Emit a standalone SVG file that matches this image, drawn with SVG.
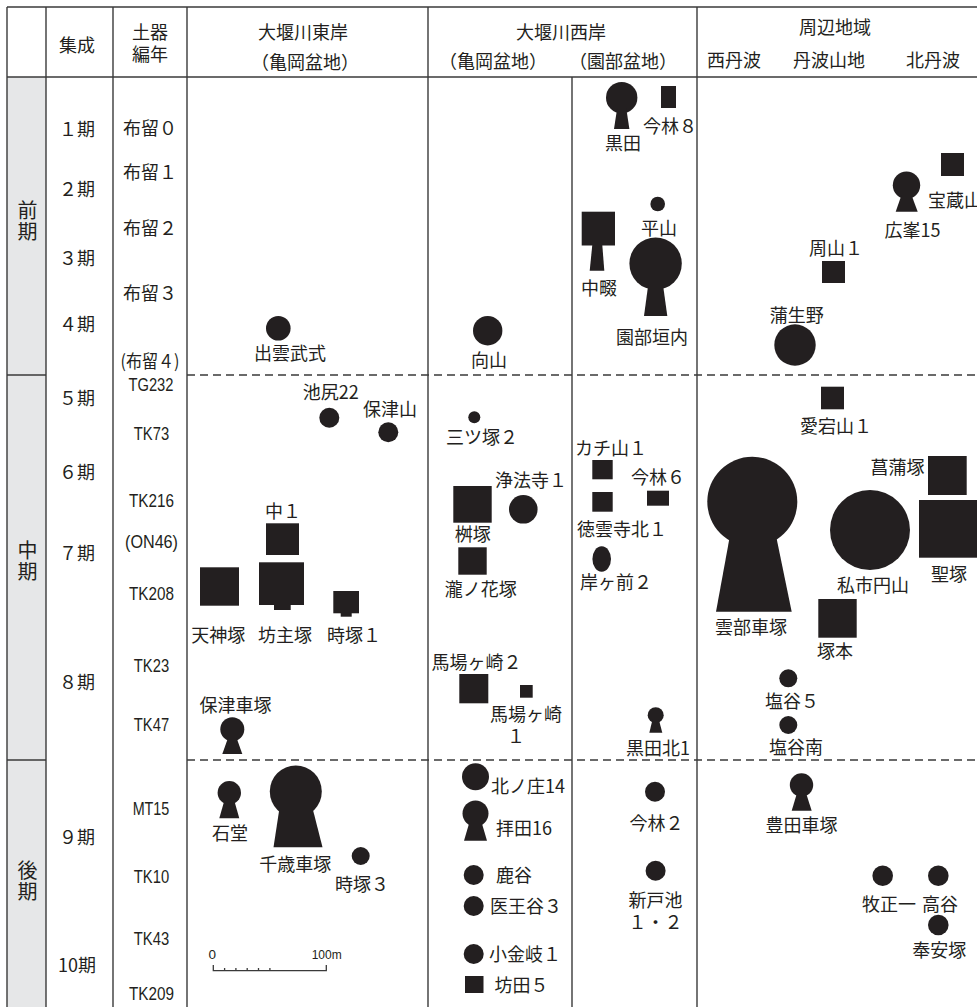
<svg xmlns="http://www.w3.org/2000/svg" width="977" height="1007" viewBox="0 0 977 1007">
<style>
.ln{stroke:#3a3a3a;stroke-width:1.4;fill:none}
.ds{stroke:#3a3a3a;stroke-width:1.3;stroke-dasharray:8 5;fill:none}
.f{fill:#231f20}
text{font-family:"Noto Sans CJK JP","Noto Sans",sans-serif;font-size:18px;fill:#231f20}
.m{text-anchor:middle}
.la{font-family:"Liberation Sans",Arial,sans-serif;font-size:19px;text-anchor:middle}
.v{font-size:20px;text-anchor:middle;writing-mode:vertical-rl;letter-spacing:1px}
.sc{font-family:"Liberation Sans",Arial,sans-serif;font-size:13.5px}
</style>
<rect x="0" y="0" width="977" height="1007" fill="#ffffff"/>
<g id="grid">
<rect x="7" y="77" width="39" height="930" fill="#e6e7e8"/>
<line class="ln" x1="7" y1="7" x2="977" y2="7"/>
<line class="ln" x1="7" y1="77" x2="977" y2="77"/>
<line class="ln" x1="7" y1="7" x2="7" y2="1007"/>
<line class="ln" x1="46" y1="7" x2="46" y2="1007"/>
<line class="ln" x1="113" y1="7" x2="113" y2="1007"/>
<line class="ln" x1="187" y1="7" x2="187" y2="1007"/>
<line class="ln" x1="428" y1="7" x2="428" y2="1007"/>
<line class="ln" x1="572" y1="77" x2="572" y2="1007"/>
<line class="ln" x1="697" y1="7" x2="697" y2="1007"/>
<line class="ln" x1="7" y1="375" x2="46" y2="375"/>
<line class="ln" x1="7" y1="760" x2="46" y2="760"/>
<line class="ds" x1="187" y1="375" x2="977" y2="375"/>
<line class="ds" x1="187" y1="760" x2="977" y2="760"/>
</g>
<g id="header">
<text class="m" x="77" y="52">集成</text>
<text class="m" x="150" y="39">土器<tspan x="150" dy="22">編年</tspan></text>
<text class="m" x="303" y="39">大堰川東岸</text>
<text class="m" x="305" y="69">（亀岡盆地）</text>
<text class="m" x="561" y="39">大堰川西岸</text>
<text class="m" x="493" y="68">（亀岡盆地）</text>
<text class="m" x="623" y="68">（園部盆地）</text>
<text class="m" x="835" y="34">周辺地域</text>
<text class="m" x="734" y="67">西丹波</text>
<text class="m" x="829" y="67">丹波山地</text>
<text class="m" x="933" y="67">北丹波</text>
</g>
<g id="eras">
<text class="v" x="27.5" y="221.5">前期</text>
<text class="v" x="27.5" y="561.5">中期</text>
<text class="v" x="27.5" y="881">後期</text>
</g>
<g id="phases">
<text class="m" x="77" y="136">１期</text>
<text class="m" x="77" y="196">２期</text>
<text class="m" x="77" y="265">３期</text>
<text class="m" x="77" y="331">４期</text>
<text class="m" x="77" y="405">５期</text>
<text class="m" x="77" y="479">６期</text>
<text class="m" x="77" y="560">７期</text>
<text class="m" x="77" y="689">８期</text>
<text class="m" x="77" y="844">９期</text>
<text class="m" x="77" y="972">10期</text>
</g>
<g id="pottery">
<text class="m" x="150" y="135">布留０</text>
<text class="m" x="150" y="179">布留１</text>
<text class="m" x="150" y="235">布留２</text>
<text class="m" x="150" y="300">布留３</text>
<text class="m" x="150" y="368" textLength="59" lengthAdjust="spacingAndGlyphs">(布留４)</text>
<text class="la" x="151" y="390.8" textLength="45" lengthAdjust="spacingAndGlyphs">TG232</text>
<text class="la" x="151.5" y="440.2" textLength="35.3" lengthAdjust="spacingAndGlyphs">TK73</text>
<text class="la" x="151.5" y="506.8" textLength="45" lengthAdjust="spacingAndGlyphs">TK216</text>
<text class="la" x="151.5" y="547.5" textLength="53" lengthAdjust="spacingAndGlyphs">(ON46)</text>
<text class="la" x="151.5" y="599.6" textLength="45" lengthAdjust="spacingAndGlyphs">TK208</text>
<text class="la" x="151.5" y="671.8" textLength="35.3" lengthAdjust="spacingAndGlyphs">TK23</text>
<text class="la" x="151.5" y="731.2" textLength="35.3" lengthAdjust="spacingAndGlyphs">TK47</text>
<text class="la" x="151" y="815.2" textLength="36.7" lengthAdjust="spacingAndGlyphs">MT15</text>
<text class="la" x="151.5" y="882.8" textLength="35.3" lengthAdjust="spacingAndGlyphs">TK10</text>
<text class="la" x="151.5" y="945.2" textLength="35.3" lengthAdjust="spacingAndGlyphs">TK43</text>
<text class="la" x="151.5" y="1000.2" textLength="45" lengthAdjust="spacingAndGlyphs">TK209</text>
</g>
<g id="east">
<g id="izumotakeshiki"><circle class="f" cx="278.3" cy="328.3" r="12.3"/><text class="m" x="290" y="359.5">出雲武式</text></g>
<g id="ikejiri22"><circle class="f" cx="329.3" cy="417.7" r="10"/><text class="m" x="330.8" y="398.5">池尻22</text></g>
<g id="hozuyama"><circle class="f" cx="388.3" cy="432.3" r="10"/><text class="m" x="390" y="416">保津山</text></g>
<g id="naka1"><rect class="f" x="266" y="523.3" width="33" height="31.7"/><text class="m" x="283" y="517.5">中１</text></g>
<g id="tenjinzuka"><rect class="f" x="200" y="567.3" width="39" height="38.4"/><text class="m" x="218.3" y="642">天神塚</text></g>
<g id="bozuzuka"><rect class="f" x="259" y="562.3" width="45" height="42.7"/><rect class="f" x="274" y="604" width="16.7" height="6"/><text class="m" x="285" y="642">坊主塚</text></g>
<g id="tokizuka1"><rect class="f" x="333.3" y="591" width="25.7" height="22.3"/><rect class="f" x="340.7" y="612.5" width="11" height="4.2"/><text class="m" x="354" y="642">時塚１</text></g>
<g id="hozukurumazuka"><circle class="f" cx="232.3" cy="729.3" r="12"/><polygon class="f" points="228,738 236.6,738 242.3,754 222.3,754"/><text class="m" x="235.5" y="712">保津車塚</text></g>
<g id="ishido"><circle class="f" cx="229.3" cy="792.7" r="11.7"/><polygon class="f" points="224.5,800 234.1,800 239.3,818.3 219.3,818.3"/><text class="m" x="230" y="840">石堂</text></g>
<g id="chitosekurumazuka"><circle class="f" cx="295.8" cy="791.5" r="26"/><polygon class="f" points="279.5,808 312.5,808 322.5,847.3 273.5,847.3"/><text class="m" x="295.3" y="871">千歳車塚</text></g>
<g id="tokizuka3"><circle class="f" cx="360.7" cy="856" r="9"/><text class="m" x="362" y="891">時塚３</text></g>
<g id="scalebar">
<path class="ln" style="stroke-width:1.3" d="M213.3,965 V970.7 H326.3 V965 M224.6,968 V970.7 M235.9,968 V970.7 M247.2,968 V970.7 M258.5,968 V970.7 M269.9,968 V970.7"/>
<text class="sc" x="212.3" y="959" text-anchor="middle">0</text>
<text class="sc" x="311.7" y="959" textLength="30" lengthAdjust="spacingAndGlyphs">100m</text>
</g>
</g>
<g id="west-kameoka">
<g id="mukoyama"><circle class="f" cx="487.7" cy="330.7" r="14.7"/><text class="m" x="489" y="367">向山</text></g>
<g id="mitsuzuka2"><circle class="f" cx="474.3" cy="417.3" r="6"/><text class="m" x="482" y="443.5">三ツ塚２</text></g>
<g id="johoji1"><circle class="f" cx="523.3" cy="509.3" r="14.3"/><text class="m" x="531" y="487">浄法寺１</text></g>
<g id="masuzuka"><rect class="f" x="453.3" y="486" width="38.4" height="36.7"/><text class="m" x="472.7" y="541">桝塚</text></g>
<g id="takinohanazuka"><rect class="f" x="458.3" y="547.3" width="28.4" height="27.4"/><text class="m" x="480.7" y="596">瀧ノ花塚</text></g>
<g id="babagasaki2"><rect class="f" x="459.3" y="674" width="29" height="29.3"/><text class="m" x="476.5" y="669">馬場ヶ崎２</text></g>
<g id="babagasaki1"><rect class="f" x="520" y="685" width="12.7" height="12.7"/><text class="m" x="526" y="721">馬場ヶ崎<tspan x="516" dy="22">１</tspan></text></g>
<g id="kitanosho14"><circle class="f" cx="475.5" cy="776.7" r="13.5"/><text x="491" y="792.5">北ノ庄14</text></g>
<g id="haida16"><circle class="f" cx="475.5" cy="813.5" r="13"/><polygon class="f" points="469.5,822 481.5,822 487,840.7 464,840.7"/><text x="496" y="835">拝田16</text></g>
<g id="shikadani"><circle class="f" cx="473.7" cy="875" r="10"/><text x="496" y="882">鹿谷</text></g>
<g id="iodani3"><circle class="f" cx="473.7" cy="906" r="10"/><text x="490" y="913">医王谷３</text></g>
<g id="koganegi1"><circle class="f" cx="473.7" cy="954" r="10"/><text x="489" y="961">小金岐１</text></g>
<g id="boda5"><rect class="f" x="465" y="976" width="18.5" height="17"/><text x="494.5" y="992">坊田５</text></g>
</g>
<g id="west-sonobe">
<g id="kuroda"><circle class="f" cx="621.7" cy="97.7" r="15.7"/><polygon class="f" points="617.2,108 626.2,108 629.4,129 614,129"/><text class="m" x="623" y="150">黒田</text></g>
<g id="imabayashi8"><rect class="f" x="661" y="86" width="15" height="22"/><text class="m" x="670" y="133">今林８</text></g>
<g id="hirayama"><circle class="f" cx="657.7" cy="204" r="7.3"/><text class="m" x="659" y="235">平山</text></g>
<g id="nakanawate"><rect class="f" x="581.7" y="211.7" width="33.3" height="33.8"/><polygon class="f" points="592.3,245 602.3,245 604.3,270.7 589.7,270.7"/><text class="m" x="599" y="295">中畷</text></g>
<g id="sonobekaito"><circle class="f" cx="655.6" cy="263.6" r="26.2"/><polygon class="f" points="648.2,285 663,285 667.3,316 644,316"/><text class="m" x="652" y="344">園部垣内</text></g>
<g id="kachiyama1"><rect class="f" x="592.3" y="460" width="20.4" height="19.3"/><text class="m" x="611" y="455">カチ山１</text></g>
<g id="imabayashi6"><rect class="f" x="647" y="490.7" width="22" height="15"/><text class="m" x="658" y="484">今林６</text></g>
<g id="tokuunjikita1"><rect class="f" x="592.3" y="492" width="20.4" height="19.7"/><text class="m" x="622" y="536">徳雲寺北１</text></g>
<g id="kishigamae2"><ellipse class="f" cx="601.7" cy="559" rx="9.3" ry="12.7"/><text class="m" x="616" y="588.5">岸ヶ前２</text></g>
<g id="kurodakita1"><circle class="f" cx="655.7" cy="715.2" r="8"/><polygon class="f" points="652.7,719 658.7,719 662.3,732.7 649.3,732.7"/><text class="m" x="658" y="755">黒田北1</text></g>
<g id="imabayashi2"><circle class="f" cx="655" cy="791.7" r="10"/><text class="m" x="656.5" y="830">今林２</text></g>
<g id="shintoike"><circle class="f" cx="655.6" cy="870.7" r="10"/><text class="m" x="655.5" y="907">新戸池<tspan x="655.5" dy="22">１・２</tspan></text></g>
</g>
<g id="periphery">
<g id="hozoyama"><rect class="f" x="941" y="153" width="23" height="23"/><text x="928" y="207">宝蔵山</text></g>
<g id="hiromine15"><circle class="f" cx="906.5" cy="185.3" r="13.7"/><polygon class="f" points="901.5,195 911.5,195 917.7,211.7 895.7,211.7"/><text class="m" x="912.5" y="237">広峯15</text></g>
<g id="shuzan1"><rect class="f" x="822" y="261" width="23" height="22"/><text class="m" x="836" y="255">周山１</text></g>
<g id="gamono"><circle class="f" cx="795" cy="345" r="20.7"/><text class="m" x="796.7" y="322">蒲生野</text></g>
<g id="atagoyama1"><rect class="f" x="821" y="386.7" width="23" height="22.6"/><text class="m" x="836" y="433">愛宕山１</text></g>
<g id="unbekurumazuka"><circle class="f" cx="752.3" cy="501.7" r="45"/><polygon class="f" points="729.5,538 776.5,538 791.7,611.7 716,611.7"/><text class="m" x="751" y="634">雲部車塚</text></g>
<g id="ayamezuka"><rect class="f" x="928" y="456" width="38.7" height="39"/><text class="m" x="897.5" y="473.5">菖蒲塚</text></g>
<g id="kisaichimaruyama"><circle class="f" cx="870" cy="530" r="40"/><text class="m" x="873" y="592">私市円山</text></g>
<g id="hijirizuka"><rect class="f" x="919" y="500" width="58" height="57.7"/><text class="m" x="949" y="581">聖塚</text></g>
<g id="tsukamoto"><rect class="f" x="818.3" y="599" width="38.4" height="38.7"/><text class="m" x="835" y="658">塚本</text></g>
<g id="shiodani5"><circle class="f" cx="788.3" cy="678.3" r="9"/><text class="m" x="792" y="708">塩谷５</text></g>
<g id="shiodaniminami"><circle class="f" cx="788.3" cy="725" r="9"/><text class="m" x="796" y="754">塩谷南</text></g>
<g id="toyodakurumazuka"><circle class="f" cx="801.5" cy="785" r="11.7"/><polygon class="f" points="797,793 806,793 811.7,810.7 791.7,810.7"/><text class="m" x="801.5" y="832">豊田車塚</text></g>
<g id="makishoichi"><circle class="f" cx="882.7" cy="875.7" r="10.3"/><text class="m" x="889" y="911">牧正一</text></g>
<g id="takatani"><circle class="f" cx="938.3" cy="875.7" r="10.3"/><text class="m" x="940" y="911">高谷</text></g>
<g id="hoanzuka"><circle class="f" cx="938.3" cy="925" r="10.3"/><text class="m" x="939.3" y="957">奉安塚</text></g>
</g>
<g id="connectors"></g>
</svg>
